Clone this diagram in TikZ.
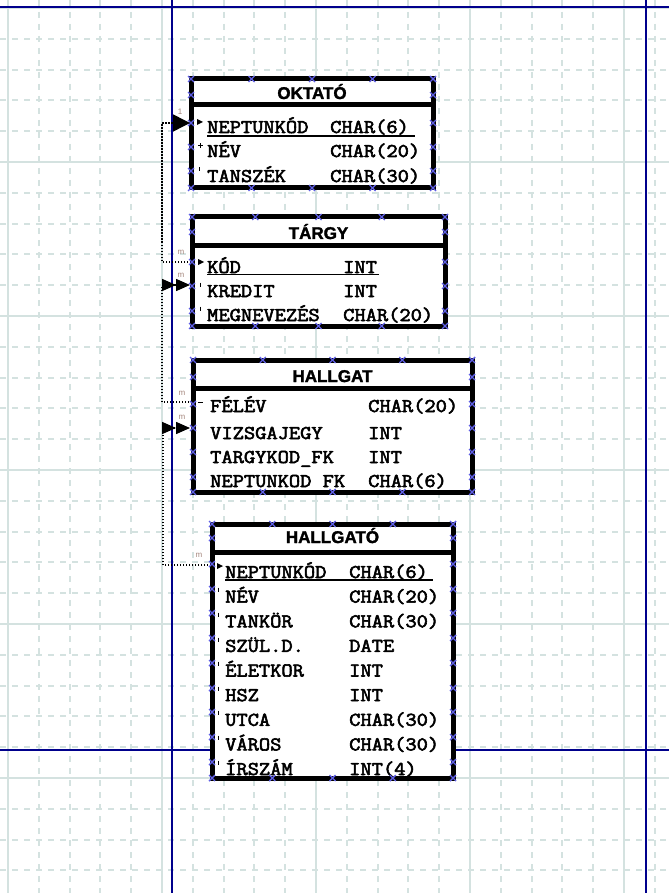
\documentclass[tikz,border=0pt]{standalone}
\usepackage{fontspec}
\setmainfont{Liberation Sans}
\newfontfamily\rowfont[FakeStretch=1.12, FakeBold=3]{Latin Modern Mono}
\newfontfamily\titlefont[BoldFeatures={FakeBold=1.8}]{Liberation Sans}
\usetikzlibrary{arrows.meta}
\definecolor{gridc}{RGB}{212,226,224}
\definecolor{bluel}{RGB}{0,0,140}
\definecolor{handle}{RGB}{95,95,230}
\definecolor{lblc}{RGB}{165,135,125}
\tikzset{
 gridmin/.style={gridc, line width=2pt, dash pattern=on 6pt off 6pt},
 gridmaj/.style={gridc, line width=2pt},
 blueline/.style={bluel, line width=2pt},
 tbox/.style={draw=black, fill=white, line width=5pt},
 sepline/.style={black, line width=5pt},
 ttitle/.style={font=\titlefont\bfseries\fontsize{17}{18}\selectfont, inner sep=0pt, anchor=base},
 rowtxt/.style={font=\rowfont\fontsize{19.5}{20}\selectfont, inner sep=0pt, anchor=base west},
 uline/.style={black, line width=1.5pt},
 conn/.style={black, line width=1.5pt, dash pattern=on 1.5pt off 1.5pt},
 onearrow/.style={-{Triangle[length=17pt,width=17pt]}},
 twoarrow/.style={-{Triangle[length=14pt,width=12pt]Triangle[length=14pt,width=12pt]}},
 lbl/.style={font=\fontsize{8}{8}\selectfont, text=lblc, inner sep=0pt},
 hmk/.style={handle, line width=1.4pt},
}
\newcommand\hmark[2]{\draw[hmk] (#1-3,#2-3) -- (#1+3,#2+3) (#1-3,#2+3) -- (#1+3,#2-3);}
\newcommand\keymark[2]{\fill[black] (#1-3,#2-3) -- (#1+3,#2) -- (#1-3,#2+3) -- cycle;}
\newcommand\tickmark[2]{\draw[black, line width=1pt] (#1,#2-2.5) -- (#1,#2+1.5);}
\newcommand\plusmark[2]{\draw[black, line width=1pt] (#1-2,#2) -- (#1+3,#2) (#1,#2-2.5) -- (#1,#2+2.5);}
\begin{document}
\begin{tikzpicture}[x=1pt,y=-1pt]
\useasboundingbox (0,0) rectangle (669,893);
\fill[white] (0,0) rectangle (669,893);
% grid
\foreach \k in {0,...,21} {\draw[gridmin] (8+30.8*\k,0) -- (8+30.8*\k,893);}
\foreach \k in {0,...,28} {\draw[gridmin] (0,8+30.8*\k) -- (669,8+30.8*\k);}
\foreach \k in {0,5,10,15,20} {\draw[gridmaj] (8+30.8*\k,0) -- (8+30.8*\k,893);}
\foreach \k in {0,5,10,15,20,25} {\draw[gridmaj] (0,8+30.8*\k) -- (669,8+30.8*\k);}
% page lines
\draw[blueline] (172,0) -- (172,893);
\draw[blueline] (646,0) -- (646,893);
\draw[blueline] (0,7) -- (669,7);
\draw[blueline] (0,750) -- (669,750);
% anchor coordinates
\coordinate (okt-p1) at (190,123);
\coordinate (tar-p1) at (191,262);
\coordinate (tar-p2) at (190,285);
\coordinate (hal-p1) at (192,402);
\coordinate (hal-p2) at (190,428);
\coordinate (hgo-p1) at (211,565);
% connectors
\draw[conn, onearrow] (tar-p1) -- ++(-29,0) |- (okt-p1);
\draw[conn, twoarrow] (hal-p1) -- ++(-30,0) |- (tar-p2);
\draw[conn, twoarrow] (hgo-p1) -- ++(-48,0) |- (hal-p2);
% labels
\node[lbl] (l-okt) at (180,112) {1};
\node[lbl] (l-tar1) at (181,252) {m};
\node[lbl] (l-tar2) at (181,275) {m};
\node[lbl] (l-hal1) at (182,393) {m};
\node[lbl] (l-hal2) at (182,417) {m};
\node[lbl] (l-hgo) at (199,555) {m};
% ---------- OKTATO
\draw[tbox] (191,79) rectangle (433,188);
\draw[sepline] (191,105) -- (433,105);
\node[ttitle] (okt-title) at (312,99) {OKTATÓ};
\node[rowtxt] (okt-n1) at (207,133) {NEPTUNKÓD};
\node[rowtxt] (okt-t1) at (330,133) {CHAR(6)};
\node[rowtxt] (okt-n2) at (207,157) {NÉV};
\node[rowtxt] (okt-t2) at (330,157) {CHAR(20)};
\node[rowtxt] (okt-n3) at (207,182) {TANSZÉK};
\node[rowtxt] (okt-t3) at (330,182) {CHAR(30)};
\draw[uline] (207,136) -- (415,136);
\keymark{200}{122}
\plusmark{200}{146}
\tickmark{199}{170}
\foreach \x in {191,251.5,312,372.5,433} {\hmark{\x}{79}\hmark{\x}{188}}
\foreach \y in {95,123,147,171} {\hmark{191}{\y}\hmark{433}{\y}}
% ---------- TARGY
\draw[tbox] (192,217) rectangle (445,326);
\draw[sepline] (192,245) -- (445,245);
\node[ttitle] (tar-title) at (318.5,239) {TÁRGY};
\node[rowtxt] (tar-n1) at (207,273) {KÓD};
\node[rowtxt] (tar-t1) at (343,273) {INT};
\node[rowtxt] (tar-n2) at (207,297) {KREDIT};
\node[rowtxt] (tar-t2) at (343,297) {INT};
\node[rowtxt] (tar-n3) at (207,321) {MEGNEVEZÉS};
\node[rowtxt] (tar-t3) at (343,321) {CHAR(20)};
\draw[uline] (207,274.5) -- (379,274.5);
\keymark{201}{262}
\tickmark{200}{285}
\tickmark{200}{309}
\foreach \x in {192,255.25,318.5,381.75,445} {\hmark{\x}{217}\hmark{\x}{326}}
\foreach \y in {232,262,286,311} {\hmark{192}{\y}\hmark{445}{\y}}
% ---------- HALLGAT
\draw[tbox] (193,360) rectangle (472,492);
\draw[sepline] (193,388) -- (472,388);
\node[ttitle] (hal-title) at (332.5,382) {HALLGAT};
\node[rowtxt] (hal-n1) at (210,412) {FÉLÉV};
\node[rowtxt] (hal-t1) at (368,412) {CHAR(20)};
\node[rowtxt] (hal-n2) at (210,439) {VIZSGAJEGY};
\node[rowtxt] (hal-t2) at (368,439) {INT};
\node[rowtxt] (hal-n3) at (210,463) {TARGYKOD\_FK};
\node[rowtxt] (hal-t3) at (368,463) {INT};
\node[rowtxt] (hal-n4) at (210,487) {NEPTUNKOD FK};
\node[rowtxt] (hal-t4) at (368,487) {CHAR(6)};
\draw[black, line width=1pt] (198,402) -- (203,402);
\foreach \x in {193,262.75,332.5,402.25,472} {\hmark{\x}{360}\hmark{\x}{492}}
\foreach \y in {377,404,428,452,477} {\hmark{193}{\y}\hmark{472}{\y}}
% ---------- HALLGATO
\draw[tbox] (212,524) rectangle (453,778);
\draw[sepline] (212,552) -- (453,552);
\node[ttitle] (hgo-title) at (332.5,543) {HALLGATÓ};
\node[rowtxt] (hgo-n1) at (225,578) {NEPTUNKÓD};
\node[rowtxt] (hgo-t1) at (349,578) {CHAR(6)};
\node[rowtxt] (hgo-n2) at (225,602.6) {NÉV};
\node[rowtxt] (hgo-t2) at (349,602.6) {CHAR(20)};
\node[rowtxt] (hgo-n3) at (225,627.3) {TANKÖR};
\node[rowtxt] (hgo-t3) at (349,627.3) {CHAR(30)};
\node[rowtxt] (hgo-n4) at (225,651.9) {SZÜL.D.};
\node[rowtxt] (hgo-t4) at (349,651.9) {DATE};
\node[rowtxt] (hgo-n5) at (225,676.5) {ÉLETKOR};
\node[rowtxt] (hgo-t5) at (349,676.5) {INT};
\node[rowtxt] (hgo-n6) at (225,701.1) {HSZ};
\node[rowtxt] (hgo-t6) at (349,701.1) {INT};
\node[rowtxt] (hgo-n7) at (225,725.8) {UTCA};
\node[rowtxt] (hgo-t7) at (349,725.8) {CHAR(30)};
\node[rowtxt] (hgo-n8) at (225,750.4) {VÁROS};
\node[rowtxt] (hgo-t8) at (349,750.4) {CHAR(30)};
\node[rowtxt] (hgo-n9) at (225,775) {ÍRSZÁM};
\node[rowtxt] (hgo-t9) at (349,775) {INT(4)};
\draw[uline] (225,580) -- (433,580);
\keymark{220}{566}
\foreach \y in {590,615,640,664,689,713,738,763} {\tickmark{218}{\y}}
\foreach \x in {212,272.25,332.5,392.75,453} {\hmark{\x}{524}\hmark{\x}{778}}
\foreach \y in {538,564,589,613,638,663,688,712,737,762} {\hmark{212}{\y}\hmark{453}{\y}}
\end{tikzpicture}
\end{document}
